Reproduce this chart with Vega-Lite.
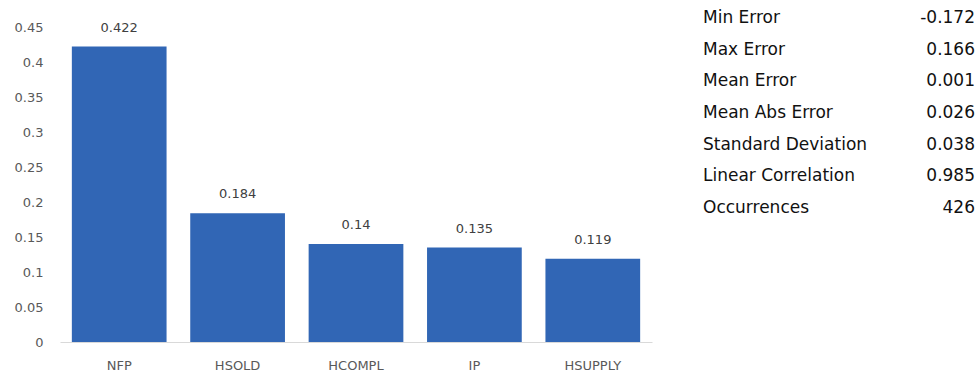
{
  "$schema": "https://vega.github.io/schema/vega-lite/v6.json",
  "background": "white",
  "padding": {"left": 14, "top": 9, "right": 0, "bottom": 0},
  "bounds": "flush",
  "spacing": 51,
  "config": {"view": {"stroke": null}, "font": "DejaVu Sans"},
  "datasets": {
    "importance": [
      {"variable": "NFP", "importance": 0.422},
      {"variable": "HSOLD", "importance": 0.184},
      {"variable": "HCOMPL", "importance": 0.14},
      {"variable": "IP", "importance": 0.135},
      {"variable": "HSUPPLY", "importance": 0.119}
    ],
    "stats": [
      {"stat": "Min Error", "value": "-0.172"},
      {"stat": "Max Error", "value": "0.166"},
      {"stat": "Mean Error", "value": "0.001"},
      {"stat": "Mean Abs Error", "value": "0.026"},
      {"stat": "Standard Deviation", "value": "0.038"},
      {"stat": "Linear Correlation", "value": "0.985"},
      {"stat": "Occurrences", "value": "426"}
    ]
  },
  "hconcat": [
    {
      "width": 592,
      "height": 315,
      "data": {"name": "importance"},
      "encoding": {
        "x": {
          "field": "variable",
          "type": "nominal",
          "sort": null,
          "scale": {"paddingInner": 0.2, "paddingOuter": 0.1},
          "axis": {
            "title": null,
            "labelAngle": 0,
            "ticks": false,
            "domainColor": "#d9d9d9",
            "domainWidth": 1,
            "labelPadding": 17,
            "labelFontSize": 13,
            "labelColor": "#595959"
          }
        },
        "y": {
          "field": "importance",
          "type": "quantitative",
          "scale": {"domain": [0, 0.45], "nice": false},
          "axis": {
            "title": null,
            "values": [0, 0.05, 0.1, 0.15, 0.2, 0.25, 0.3, 0.35, 0.4, 0.45],
            "format": "~g",
            "grid": false,
            "domain": false,
            "ticks": false,
            "labelPadding": 17,
            "labelFontSize": 13,
            "labelColor": "#595959"
          }
        }
      },
      "layer": [
        {"mark": {"type": "bar", "color": "#3166b5"}},
        {
          "mark": {"type": "text", "baseline": "middle", "dy": -19, "fontSize": 13, "color": "#404040"},
          "encoding": {"text": {"field": "importance", "type": "quantitative", "format": "~g"}}
        }
      ]
    },
    {
      "width": 272,
      "height": 190,
      "data": {"name": "stats"},
      "encoding": {
        "y": {"field": "stat", "type": "nominal", "sort": null, "scale": {"type": "point", "padding": 0}, "axis": null}
      },
      "layer": [
        {
          "mark": {"type": "text", "align": "left", "baseline": "middle", "dy": -9, "fontSize": 17, "color": "#111111"},
          "encoding": {
            "x": {"datum": "label", "type": "nominal", "scale": {"type": "point", "domain": ["label", "value"], "padding": 0}, "axis": null},
            "text": {"field": "stat", "type": "nominal"}
          }
        },
        {
          "mark": {"type": "text", "align": "right", "baseline": "middle", "dy": -9, "fontSize": 17, "color": "#111111"},
          "encoding": {
            "x": {"datum": "value", "type": "nominal", "scale": {"type": "point", "domain": ["label", "value"], "padding": 0}, "axis": null},
            "text": {"field": "value", "type": "nominal"}
          }
        }
      ]
    }
  ]
}
